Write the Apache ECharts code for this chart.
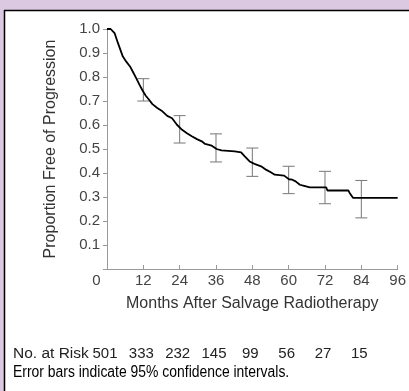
<!DOCTYPE html>
<html>
<head>
<meta charset="utf-8">
<script src="https://cdn.jsdelivr.net/npm/echarts@6/dist/echarts.min.js"></script>
<style>
  html, body { margin: 0; padding: 0; background: #fff; }
  #main { width: 409px; height: 391px; }
</style>
</head>
<body>
<div id="main"></div>
<script>
// progression-free curve
var curveMonths = [0, 1.2, 2.5, 3.6, 4.4, 5.2, 6.3, 7.6, 8.5, 9.6, 10.7, 11.7, 12.8, 13.9, 15, 16.6,
  18.3, 19.9, 21.5, 23.1, 24.8, 26.4, 28, 29.7, 31.3, 32.4, 34.6, 36.2, 37.8, 42.2, 44.3, 45.5,
  47.1, 48.7, 50.9, 52.5, 54.1, 55.4, 58.5, 60.1, 61.2, 62.3, 63.7, 64.5, 67, 72.4, 72.8, 79.7,
  80.2, 81.3, 96];
var curveValues = [1.0, 1.0, 0.983, 0.942, 0.914, 0.886, 0.865, 0.844, 0.823, 0.796, 0.768, 0.745, 0.722, 0.705, 0.687, 0.671,
  0.657, 0.638, 0.628, 0.601, 0.58, 0.566, 0.553, 0.541, 0.532, 0.521, 0.514, 0.5, 0.494, 0.49, 0.486, 0.469,
  0.448, 0.438, 0.428, 0.414, 0.403, 0.393, 0.389, 0.374, 0.372, 0.365, 0.351, 0.348, 0.34, 0.34, 0.327, 0.327,
  0.316, 0.296, 0.296];

// 95% confidence intervals
var ciMonths = [12, 24, 36, 48, 60, 72, 84];
var ciLower = [0.70, 0.525, 0.446, 0.386, 0.314, 0.272, 0.213];
var ciUpper = [0.793, 0.639, 0.563, 0.504, 0.428, 0.407, 0.369];

// number at risk table
var riskMonths = [0, 12, 24, 36, 48, 60, 72, 84];
var riskCounts = [501, 333, 232, 145, 99, 56, 27, 15];

var FONT = 'Liberation Sans, Arial, sans-serif';

var myChart = echarts.init(document.getElementById('main'));

var option = {
  animation: false,
  grid: {
    left: 107,
    right: 7,
    top: 29,
    bottom: 122
  },
  xAxis: {
    type: 'value',
    min: 0,
    max: 96,
    interval: 12,
    name: 'Months After Salvage Radiotherapy',
    nameLocation: 'middle',
    nameGap: 27,
    nameTextStyle: { color: '#333', fontSize: 16, fontFamily: FONT },
    axisLine: { show: true, lineStyle: { color: '#999', width: 1 } },
    axisTick: { show: true, inside: true, length: 4, lineStyle: { color: '#999' } },
    axisLabel: {
      margin: 4,
      color: '#444',
      fontSize: 15,
      fontFamily: FONT,
      formatter: function (v) {
        return v === 0 ? '{z|0}' : String(v) // the 0 sits left of the origin
      },
      rich: { z: { padding: [0, 21, 0, 0], color: '#444', fontSize: 15, fontFamily: FONT } }
    },
    splitLine: { show: false }
  },
  yAxis: {
    type: 'value',
    min: 0,
    max: 1,
    interval: 0.1,
    name: 'Proportion Free of Progression',
    nameLocation: 'middle',
    nameGap: 48,
    nameTextStyle: { color: '#333', fontSize: 16, fontFamily: FONT },
    axisLine: { show: true, lineStyle: { color: '#999', width: 1 } },
    axisTick: { show: true, length: 4, lineStyle: { color: '#999' } },
    axisLabel: {
      margin: 7,
      color: '#444',
      fontSize: 15,
      fontFamily: FONT,
      formatter: function (v) {
        return v === 0 ? '' : v.toFixed(1)
      }
    },
    splitLine: { show: false }
  },
  series: [
    {
      type: 'custom',
      name: 'ci',
      z: 2,
      data: ciMonths.map(function (m, i) { return [m, ciLower[i], ciUpper[i]] }),
      renderItem: function (params, api) {
        var lo = api.coord([api.value(0), api.value(1)]);
        var hi = api.coord([api.value(0), api.value(2)]);
        var half = 6;
        var st = { stroke: '#777', lineWidth: 1 };
        return {
          type: 'group',
          children: [
            { type: 'line', shape: { x1: lo[0], y1: lo[1], x2: hi[0], y2: hi[1] }, style: st },
            { type: 'line', shape: { x1: lo[0] - half, y1: lo[1], x2: lo[0] + half, y2: lo[1] }, style: st },
            { type: 'line', shape: { x1: hi[0] - half, y1: hi[1], x2: hi[0] + half, y2: hi[1] }, style: st }
          ]
        }
      }
    },
    {
      type: 'line',
      name: 'pfs',
      z: 3,
      showSymbol: false,
      lineStyle: { color: '#000', width: 1.8 },
      data: curveMonths.map(function (m, i) { return [m, curveValues[i]] })
    }
  ]
};
myChart.setOption(option, true);

// frame + number-at-risk row, placed with the x axis scale
var graphics = [
  { type: 'rect', shape: { x: 0, y: 0, width: 409, height: 10 }, style: { fill: '#dbc9e1' }, z: 10 },
  { type: 'rect', shape: { x: 0, y: 0, width: 4, height: 391 }, style: { fill: '#dbc9e1' }, z: 10 },
  { type: 'line', shape: { x1: 4, y1: 10.5, x2: 409, y2: 10.5 }, style: { stroke: '#000', lineWidth: 1.5 }, z: 11 },
  { type: 'line', shape: { x1: 4.5, y1: 10, x2: 4.5, y2: 391 }, style: { stroke: '#000', lineWidth: 1.5 }, z: 11 },
  {
    type: 'text', x: 13, y: 354, z: 12,
    style: { text: 'No. at Risk', fill: '#222', fontSize: 15.5, fontFamily: FONT, verticalAlign: 'middle' }
  },
  {
    // condensed footer line
    type: 'text', x: 13, y: 373, z: 12, scaleX: 0.87,
    style: {
      text: 'Error bars indicate 95% confidence intervals.',
      fill: '#000', fontSize: 16, fontFamily: FONT, verticalAlign: 'middle'
    }
  }
];
riskMonths.forEach(function (m, i) {
  var px = myChart.convertToPixel({ xAxisIndex: 0 }, m);
  graphics.push({
    type: 'text', x: px - 2, y: 354, z: 12,
    style: {
      text: String(riskCounts[i]), fill: '#222', fontSize: 15, fontFamily: FONT,
      align: 'center', verticalAlign: 'middle'
    }
  })
});
myChart.setOption({ graphic: graphics });
</script>
</body>
</html>
